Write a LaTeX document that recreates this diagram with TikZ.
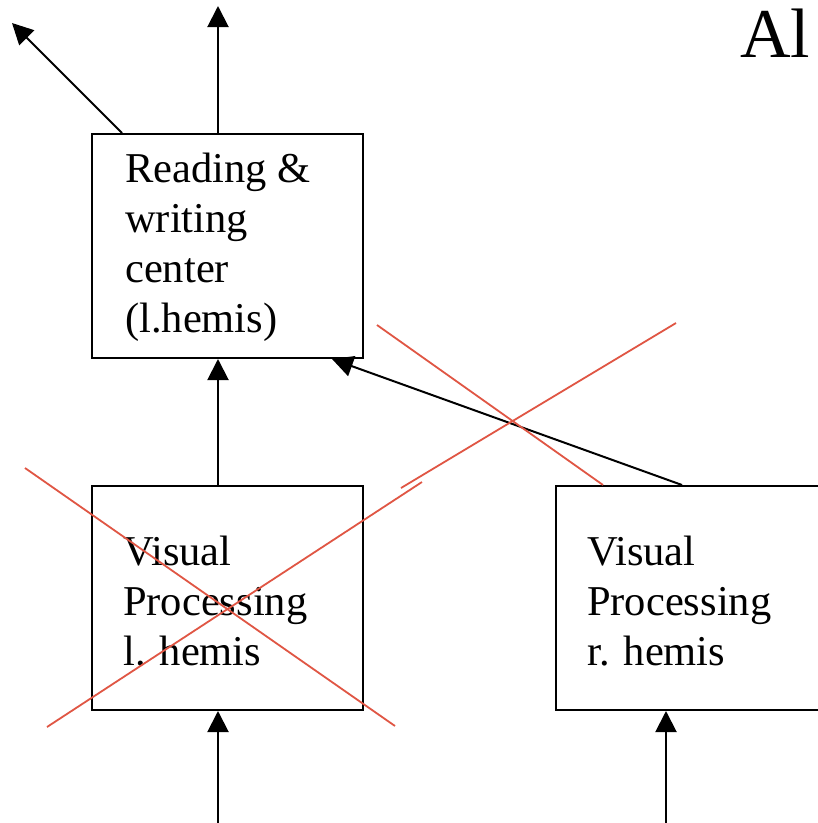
\documentclass[tikz,border=0pt]{standalone}
\usepackage{fontspec}
\setmainfont{Liberation Serif}
\usetikzlibrary{arrows.meta}
\tikzset{
  box/.style={draw=black, line width=2pt, minimum width=271pt, minimum height=224pt, inner sep=0pt, anchor=north west},
  lbl/.style={anchor=base west, inner sep=0pt, font=\fontsize{42.5}{50}\selectfont},
  conn/.style={line width=2pt, -{Triangle[length=21pt,width=21pt]}},
  cross/.style={draw={rgb,255:red,224;green,86;blue,68}, line width=1.8pt}
}
\begin{document}
\begin{tikzpicture}[x=1pt,y=-1pt]
\path[use as bounding box, clip] (0,0) rectangle (818,823);
\fill[white] (0,0) rectangle (818,823);
% boxes
\node[box] (b1) at (91,133) {};
\node[box] (b2) at (91,485) {};
\node[box] (b3) at (555,485) {};
% texts
\renewcommand\arraystretch{1}
\node[lbl] (t1) at (125,182) {\begin{tabular}[t]{@{}l@{}}Reading \&\\writing\\center\\(l.hemis)\end{tabular}};
\node[lbl] (t2) at (123,565) {\begin{tabular}[t]{@{}l@{}}Visual\\Processing\\l. hemis\end{tabular}};
\node[lbl] (t3) at (587,565) {\begin{tabular}[t]{@{}l@{}}Visual\\Processing\\r. hemis\end{tabular}};
\node[anchor=base west, inner sep=0pt, font=\fontsize{70}{80}\selectfont] (title) at (740,57) {Al};
% free ends
\coordinate (up) at (218,6);
\coordinate (diag) at (12,23);
\coordinate (in1) at (218,823);
\coordinate (in2) at (666,823);
% connectors
\draw[conn] ([xshift=127pt]b1.north west) -- (up);
\draw[conn] ([xshift=31pt]b1.north west) -- (diag);
\draw[conn] ([xshift=127pt]b2.north west) -- ([xshift=127pt]b1.south west);
\draw[conn] ([xshift=127pt]b3.north west) -- ([xshift=241pt]b1.south west);
\draw[conn] (in1) -- ([xshift=127pt]b2.south west);
\draw[conn] (in2) -- ([xshift=111pt]b3.south west);
% red crossings
\draw[cross] (25,468) -- (395,726);
\draw[cross] (47,727) -- (422,482);
\draw[cross] (401,488) -- (676,323);
\draw[cross] (377,325) -- (603,485);
\end{tikzpicture}
\end{document}
